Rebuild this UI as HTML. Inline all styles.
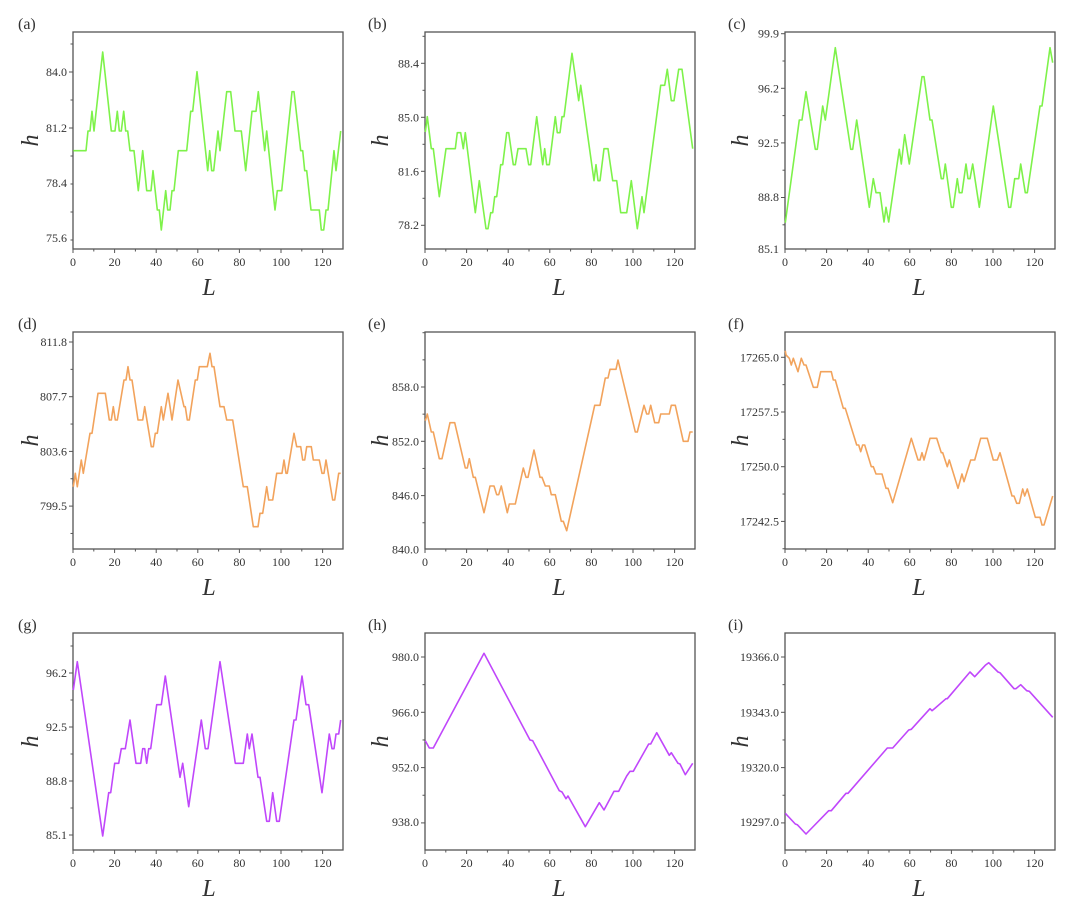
<!DOCTYPE html>
<html><head><meta charset="utf-8"><style>
html,body{margin:0;padding:0;background:#fff;}
svg text{font-family:"Liberation Serif",serif;fill:#333;}
</style></head><body>
<svg id="s" width="1080" height="911" viewBox="0 0 1080 911" xmlns="http://www.w3.org/2000/svg"></svg>
<script>
const P=[
{lab:"(a)",ox:0,oy:0,L:73,T:32,B:249,col:"#7ef24a",ticks:[[72,"84.0"],[128,"81.2"],[183,"78.4"],[238,"75.6"]],
pts:[[220,452],[258,452],[264,393],[270,393],[276,334],[282,393],[308,156],[334,393],[345,393],[352,334],[358,393],[364,393],[371,334],[377,393],[383,393],[390,452],[402,452],[415,572],[428,452],[440,572],[453,572],[459,512],[472,630],[478,630],[484,690],[497,572],[503,630],[510,630],[516,572],[522,572],[535,452],[560,452],[572,334],[578,334],[591,215],[623,512],[629,452],[635,512],[641,512],[654,393],[660,452],[680,275],[692,275],[705,393],[724,393],[737,512],[756,334],[768,334],[775,275],[794,452],[800,393],[825,630],[832,572],[845,572],[876,275],[882,275],[902,452],[908,452],[914,512],[920,512],[933,630],[958,630],[964,690],[971,690],[978,630],[984,630],[1002,452],[1008,512],[1022,393]]},
{lab:"(b)",ox:350,oy:0,L:425,T:32,B:249,col:"#7ef24a",ticks:[[63.3,"88.4"],[117.3,"85.0"],[171.3,"81.6"],[225,"78.2"]],
pts:[[226,396],[232,350],[244,446],[250,446],[268,590],[288,446],[316,446],[322,398],[332,398],[340,446],[346,398],[376,638],[388,542],[408,686],[414,686],[422,638],[428,638],[434,590],[440,590],[452,494],[458,494],[470,398],[476,398],[490,494],[496,494],[504,446],[528,446],[536,494],[542,494],[560,350],[578,494],[584,446],[590,494],[598,494],[616,350],[622,398],[630,398],[636,350],[642,350],[666,160],[686,302],[692,256],[732,542],[738,494],[744,542],[750,542],[762,446],[774,446],[788,542],[800,542],[812,638],[830,638],[844,542],[862,686],[876,590],[882,638],[932,256],[944,256],[952,208],[964,302],[972,302],[986,208],[996,208],[1028,446]]},
{lab:"(c)",ox:710,oy:0,L:785,T:32,B:249,col:"#7ef24a",ticks:[[33.7,"99.9"],[88.3,"96.2"],[143,"92.5"],[197,"88.8"],[249,"85.1"]],
pts:[[226,668],[268,360],[276,360],[288,275],[316,448],[322,448],[338,318],[346,360],[376,143],[422,448],[428,448],[440,360],[478,622],[490,536],[498,578],[510,578],[522,666],[528,622],[536,666],[568,448],[574,492],[584,404],[598,492],[636,230],[642,230],[660,360],[666,360],[694,536],[700,536],[706,492],[724,622],[730,622],[742,536],[748,578],[756,578],[768,492],[774,536],[780,536],[788,492],[808,622],[850,318],[896,622],[902,622],[914,536],[926,536],[932,492],[946,578],[952,578],[990,318],[996,318],[1020,143],[1028,188]]},
{lab:"(d)",ox:0,oy:300,L:73,T:332,B:549,col:"#f2a35c",ticks:[[342,"811.8"],[396.7,"807.7"],[451.3,"803.6"],[506,"799.5"]],
pts:[[220,560],[226,520],[232,560],[244,480],[250,520],[270,400],[276,400],[294,280],[316,280],[328,360],[334,360],[340,320],[346,360],[352,360],[372,240],[378,240],[384,200],[390,240],[396,240],[414,360],[428,360],[434,320],[454,440],[460,440],[466,400],[472,400],[484,320],[490,360],[504,280],[516,360],[534,240],[552,320],[556,320],[562,360],[568,360],[586,240],[592,240],[598,200],[622,200],[630,160],[636,200],[642,200],[660,320],[672,320],[680,360],[698,360],[730,560],[742,560],[760,680],[774,680],[780,640],[788,640],[800,560],[806,600],[818,600],[830,520],[846,520],[852,480],[858,520],[862,520],[882,400],[890,440],[902,440],[908,480],[914,480],[920,440],[934,440],[940,480],[958,480],[966,520],[972,520],[978,480],[998,600],[1004,600],[1016,520],[1022,520]]},
{lab:"(e)",ox:350,oy:300,L:425,T:332,B:549,col:"#f2a35c",ticks:[[387,"858.0"],[441.3,"852.0"],[495.7,"846.0"],[549.7,"840.0"]],
pts:[[226,362],[232,342],[244,396],[250,396],[268,476],[276,476],[300,368],[314,368],[346,504],[352,504],[358,476],[370,532],[376,532],[402,638],[420,558],[432,558],[440,584],[446,584],[454,558],[472,638],[478,612],[496,612],[520,504],[528,532],[534,532],[552,450],[570,532],[576,532],[586,558],[598,558],[604,584],[616,584],[634,664],[640,664],[650,692],[734,316],[750,316],[766,234],[774,234],[780,208],[798,208],[804,180],[856,396],[862,396],[882,316],[890,342],[896,342],[902,316],[914,368],[926,368],[932,342],[958,342],[964,316],[976,316],[1000,424],[1014,424],[1020,396],[1028,396]]},
{lab:"(f)",ox:710,oy:300,L:785,T:332,B:549,col:"#f2a35c",ticks:[[357.3,"17265.0"],[412,"17257.5"],[466.7,"17250.0"],[521.3,"17242.5"]],
pts:[[226,152],[228,165],[238,175],[244,195],[250,175],[264,215],[274,175],[282,195],[288,195],[310,262],[322,262],[332,215],[364,215],[370,240],[376,240],[400,325],[406,325],[440,435],[446,435],[452,455],[458,435],[464,435],[484,500],[490,500],[498,522],[516,522],[528,565],[534,565],[548,608],[604,415],[624,480],[630,480],[636,458],[642,480],[660,415],[680,415],[694,458],[698,458],[712,500],[718,480],[744,565],[756,522],[762,545],[782,480],[794,480],[812,415],[832,415],[850,480],[862,480],[870,458],[906,588],[912,588],[920,610],[928,610],[938,567],[944,588],[952,567],[976,652],[990,652],[996,675],[1002,675],[1028,588]]},
{lab:"(g)",ox:0,oy:530,L:73,T:633,B:850,col:"#c047fb",ticks:[[673,"96.2"],[727,"92.5"],[781,"88.8"],[835,"85.1"]],
pts:[[220,480],[232,395],[308,918],[326,788],[332,788],[344,700],[356,700],[364,656],[376,656],[390,570],[408,700],[422,700],[428,656],[434,656],[440,700],[446,656],[452,656],[470,524],[484,524],[496,438],[540,742],[548,700],[566,830],[604,570],[616,656],[624,656],[660,395],[706,700],[730,700],[742,612],[748,656],[756,612],[774,742],[780,742],[800,874],[808,874],[818,788],[830,874],[838,874],[882,570],[888,570],[906,438],[918,524],[926,524],[966,788],[988,612],[996,656],[1002,656],[1008,612],[1016,612],[1022,570]]},
{lab:"(h)",ox:350,oy:600,L:425,T:633,B:850,col:"#c047fb",ticks:[[657,"980.0"],[712.3,"966.0"],[767.3,"952.0"],[822,"938.0"]],
pts:[[226,422],[238,444],[250,444],[402,160],[540,420],[548,422],[628,572],[636,576],[648,596],[654,588],[706,680],[748,608],[762,630],[792,574],[806,574],[830,528],[840,514],[850,514],[896,432],[902,432],[920,398],[958,466],[964,458],[984,490],[990,492],[1006,524],[1028,490]]},
{lab:"(i)",ox:710,oy:600,L:785,T:633,B:850,col:"#c047fb",ticks:[[657,"19366.0"],[712.3,"19343.0"],[767.3,"19320.0"],[822,"19297.0"]],
pts:[[226,640],[256,672],[262,674],[288,702],[356,632],[364,632],[408,580],[414,580],[532,444],[548,444],[596,390],[604,388],[660,326],[666,332],[676,324],[708,296],[712,296],[780,216],[794,230],[826,196],[836,188],[864,216],[870,218],[912,266],[918,266],[932,254],[950,272],[958,274],[1028,352]]}
];
let h="";
const W=270, ppu=2.08;
for(const p of P){
  const L=p.L,R=L+W,T=p.T,B=p.B;
  h+=`<rect x="${L}" y="${T}" width="${W}" height="${B-T}" fill="none" stroke="#555" stroke-width="1.3"/>`;
  // x ticks
  for(let v=0;v<=128;v+=10){const x=L+v*ppu;const maj=v%20==0;
    h+=`<line x1="${x}" y1="${B}" x2="${x}" y2="${B+(maj?4:2.5)}" stroke="#555" stroke-width="1"/>`;
    if(maj)h+=`<text x="${x}" y="${B+17}" font-size="12" text-anchor="middle">${v}</text>`;}
  // y ticks
  const t=p.ticks, d=t[1][0]-t[0][0];
  for(let y=t[0][0]-d*3;y<=B+0.5;y+=d/2){ if(y<T-0.5)continue;
    const maj=t.some(q=>Math.abs(q[0]-y)<1);
    h+=`<line x1="${L}" y1="${y}" x2="${L-(maj?4:2.5)}" y2="${y}" stroke="#555" stroke-width="1"/>`;}
  for(const q of t)h+=`<text x="${L-6}" y="${q[0]+4}" font-size="12" text-anchor="end">${q[1]}</text>`;
  // series
  const pts=p.pts.map(a=>[(p.ox+a[0]/3).toFixed(1),(p.oy+a[1]/3).toFixed(1)].join(",")).join(" ");
  h+=`<polyline points="${pts}" fill="none" stroke="${p.col}" stroke-width="1.6" stroke-linejoin="round"/>`;
  h+=`<text x="${p.ox+18}" y="${T-3}" font-size="16" fill="#222">${p.lab}</text>`;
  h+=`<text transform="translate(${p.ox+38},${(T+B)/2}) rotate(-90)" font-size="24" font-style="italic" text-anchor="middle" fill="#222">h</text>`;
  h+=`<text x="${p.ox+209}" y="${B+46}" font-size="24" font-style="italic" text-anchor="middle" fill="#222">L</text>`;
}
document.getElementById("s").innerHTML=h;
</script>
</body></html>
